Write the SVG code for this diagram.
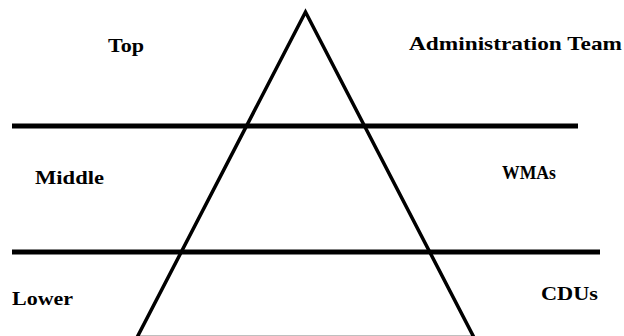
<svg xmlns="http://www.w3.org/2000/svg" width="624" height="336" viewBox="0 0 624 336">
<style>
.t{font-family:"Liberation Serif","Times New Roman",serif;font-weight:bold;font-size:19px;fill:#000}
.ln{stroke:#000;stroke-width:5;fill:none}
.tri{stroke:#000;stroke-width:3.5;fill:none;stroke-linejoin:miter}
</style>
<rect width="624" height="336" fill="#fff"/>
<g id="connectors">
<polygon id="pyramid" class="tri" points="305.5,12 137,337.5 474,337.5"/>
<line class="ln" x1="12" y1="126" x2="578" y2="126"/>
<line class="ln" x1="12" y1="252" x2="600" y2="252"/>
</g>
<g id="top"><text class="t" x="108" y="52" textLength="36" lengthAdjust="spacingAndGlyphs">Top</text></g>
<g id="admin"><text class="t" x="409" y="50" textLength="213" lengthAdjust="spacingAndGlyphs">Administration Team</text></g>
<g id="middle"><text class="t" x="35" y="184" textLength="69" lengthAdjust="spacingAndGlyphs">Middle</text></g>
<g id="wmas"><text class="t" x="502" y="179" textLength="54" lengthAdjust="spacingAndGlyphs">WMAs</text></g>
<g id="lower"><text class="t" x="12" y="305" textLength="61" lengthAdjust="spacingAndGlyphs">Lower</text></g>
<g id="cdus"><text class="t" x="541" y="300" textLength="57" lengthAdjust="spacingAndGlyphs">CDUs</text></g>
</svg>
